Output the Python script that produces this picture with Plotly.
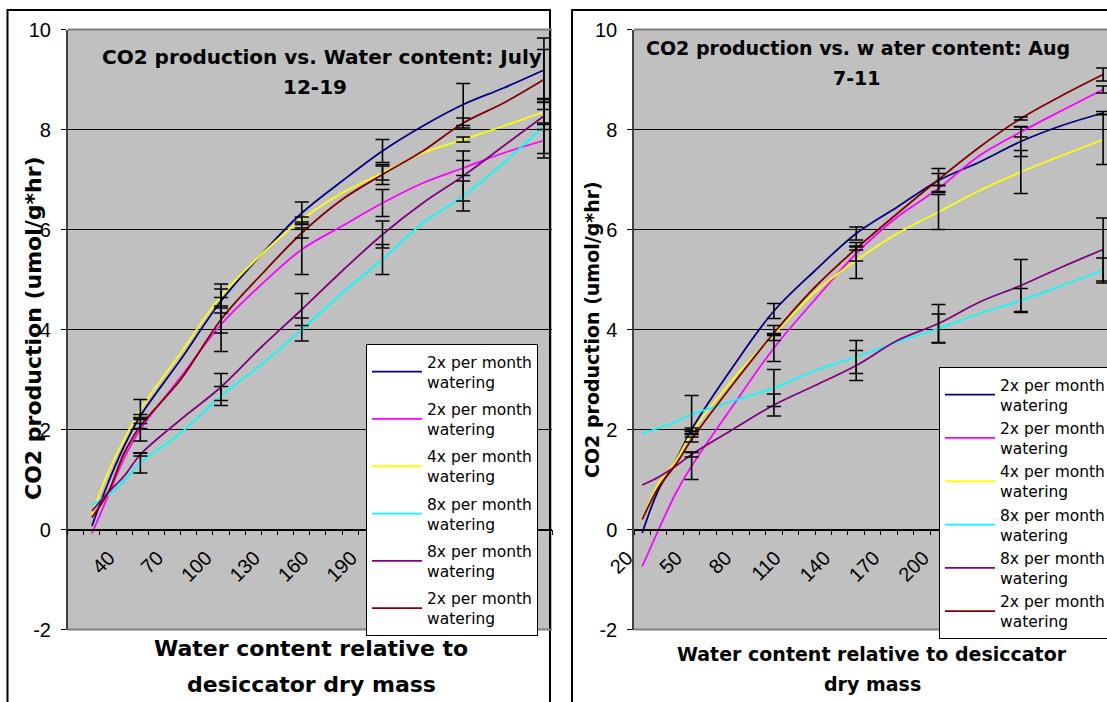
import plotly.graph_objects as go

W, H = 1107, 702

# ---------------- data ----------------
x_vals = [25, 35, 45, 55, 80, 105, 130, 155, 180, 205, 230, 255, 280, 305]
err_x = [55, 105, 155, 205, 255, 305]

series_names = ["2x per month<br>watering", "2x per month<br>watering", "4x per month<br>watering",
                "8x per month<br>watering", "8x per month<br>watering", "2x per month<br>watering"]
series_colors = ["#000080", "#FF00FF", "#FFFF00", "#00FFFF", "#800080", "#800000"]

# July 12-19
july_navy    = [0.07, 0.93, 1.67, 2.27, 3.40, 4.57, 5.50, 6.33, 6.97, 7.57, 8.07, 8.50, 8.83, 9.19]
july_magenta = [-0.08, 0.67, 1.43, 2.00, 3.05, 4.10, 4.90, 5.60, 6.07, 6.53, 6.93, 7.23, 7.53, 7.78]
july_yellow  = [0.30, 1.14, 1.80, 2.40, 3.53, 4.67, 5.50, 6.20, 6.73, 7.13, 7.53, 7.80, 8.07, 8.35]
july_cyan    = [0.49, 0.69, 0.97, 1.33, 1.93, 2.67, 3.30, 4.00, 4.73, 5.40, 6.13, 6.67, 7.33, 8.07]
july_purple  = [0.37, 0.74, 1.07, 1.50, 2.20, 2.85, 3.65, 4.40, 5.17, 5.90, 6.53, 7.07, 7.67, 8.27]
july_darkred = [0.24, 0.74, 1.53, 2.07, 3.00, 4.20, 5.10, 5.93, 6.60, 7.10, 7.57, 8.13, 8.53, 9.00]

july_err_navy    = [0.03, 0.24, 0.22, 0.23, 0.42, 0.64]
july_err_magenta = [0.23, 0.54, 0.50, 0.27, 0.15, 0.35]
july_err_yellow  = [0.20, 0.24, 0.05, 0.14, 0.05, 0.25]
july_err_cyan    = [0.20, 0.19, 0.23, 0.30, 0.30, 0.55]
july_err_purple  = [0.03, 0.27, 0.32, 0.27, 0.50, 0.27]
july_err_darkred = [0.05, 0.27, 0.10, 0.20, 0.10, 0.60]

# Aug 7-11
aug_navy    = [-0.07, 0.80, 1.35, 2.00, 3.25, 4.37, 5.18, 5.92, 6.45, 6.98, 7.35, 7.76, 8.08, 8.33]
aug_magenta = [-0.74, 0.00, 0.70, 1.27, 2.47, 3.63, 4.60, 5.52, 6.25, 6.82, 7.48, 7.95, 8.38, 8.80]
aug_yellow  = [0.20, 0.92, 1.35, 1.93, 3.00, 3.90, 4.75, 5.38, 5.92, 6.35, 6.78, 7.15, 7.48, 7.80]
aug_cyan    = [1.92, 2.03, 2.15, 2.30, 2.57, 2.83, 3.18, 3.45, 3.75, 4.02, 4.32, 4.58, 4.88, 5.18]
aug_purple  = [0.89, 1.05, 1.26, 1.50, 2.00, 2.49, 2.88, 3.28, 3.78, 4.12, 4.55, 4.88, 5.25, 5.60]
aug_darkred = [0.20, 0.85, 1.28, 1.80, 2.90, 3.93, 4.85, 5.62, 6.32, 7.00, 7.65, 8.22, 8.68, 9.10]

aug_err_navy    = [0.03, 0.15, 0.13, 0.24, 0.30, 0.03]
aug_err_magenta = [0.27, 0.27, 0.15, 0.06, 0.10, 0.07]
aug_err_yellow  = [0.03, 0.02, 0.36, 0.35, 0.43, 0.50]
aug_err_cyan    = [0.38, 0.37, 0.33, 0.29, 0.24, 0.25]
aug_err_purple  = [0.05, 0.22, 0.30, 0.38, 0.52, 0.63]
aug_err_darkred = [0.05, 0.15, 0.03, 0.12, 0.03, 0.13]

july_tick_vals = [40, 70, 100, 130, 160, 190, 220, 250, 280]
aug_tick_vals = [20, 50, 80, 110, 140, 170, 200, 230, 260, 290]
y_tick_vals = [-2, 0, 2, 4, 6, 8, 10]

july_series = [july_navy, july_magenta, july_yellow, july_cyan, july_purple, july_darkred]
july_errs = [july_err_navy, july_err_magenta, july_err_yellow, july_err_cyan, july_err_purple, july_err_darkred]
aug_series = [aug_navy, aug_magenta, aug_yellow, aug_cyan, aug_purple, aug_darkred]
aug_errs = [aug_err_navy, aug_err_magenta, aug_err_yellow, aug_err_cyan, aug_err_purple, aug_err_darkred]

# ---------------- layout helpers ----------------
def px(v):
    return v / W

def py(v):
    return 1 - v / H

TICKF = "Liberation Sans, Arial, sans-serif"
TEXTF = "DejaVu Sans, sans-serif"

fig = go.Figure()

def add_chart(series, errs, xa, ya, legend):
    for i, (ys, name, col) in enumerate(zip(series, series_names, series_colors)):
        fig.add_trace(go.Scatter(
            x=x_vals, y=ys, mode="lines", name=name, xaxis=xa, yaxis=ya,
            line=dict(color=col, width=1.8, shape="spline"),
            legend=legend, legendgroup=f"{legend}{i}", hoverinfo="skip"))
    for ys, e in zip(series, errs):
        ey = [ys[x_vals.index(xx)] for xx in err_x]
        fig.add_trace(go.Scatter(
            x=err_x, y=ey, mode="markers", xaxis=xa, yaxis=ya, showlegend=False,
            marker=dict(size=1, color="rgba(0,0,0,0)"),
            error_y=dict(type="data", array=e, visible=True, color="black",
                         thickness=1.6, width=7), hoverinfo="skip"))

add_chart(july_series, july_errs, "x", "y", "legend")
add_chart(aug_series, aug_errs, "x2", "y2", "legend2")

y_dom = [py(629.5), py(29.5)]
x_pos = y_dom[0] + (y_dom[1] - y_dom[0]) * 2 / 12

def xaxis_cfg(domain, rng, tickvals, tick0):
    return dict(domain=domain, range=rng, anchor="free", position=x_pos,
                showline=True, linecolor="black", linewidth=1.5,
                ticks="outside", ticklen=5, tickcolor="black", tickwidth=1,
                tickmode="array", tickvals=tickvals, ticktext=[str(v) for v in tickvals],
                tickangle=-45, ticklabelstandoff=3, ticklabelshift=-7, automargin=False,
                tickfont=dict(family=TICKF, size=20, color="black"),
                minor=dict(tickmode="linear", tick0=tick0, dtick=10, ticks="outside",
                           ticklen=5, tickcolor="black", showgrid=False),
                showgrid=False, zeroline=False, fixedrange=True)

def yaxis_cfg(anchor):
    return dict(domain=y_dom, range=[-2, 10], anchor=anchor, automargin=False,
                tickmode="array", tickvals=y_tick_vals, ticktext=[str(v) for v in y_tick_vals],
                showgrid=True, gridcolor="black", gridwidth=1, zeroline=False,
                showline=True, linecolor="#404040", linewidth=1.5,
                ticks="outside", ticklen=5, tickcolor="black", ticklabelstandoff=6,
                tickfont=dict(family=TICKF, size=20, color="black"), fixedrange=True)

legend_common = dict(bgcolor="white", bordercolor="black", borderwidth=1,
                     font=dict(family=TEXTF, size=15.5, color="black"),
                     xanchor="left", yanchor="top", itemwidth=50,
                     traceorder="grouped")

annots = []
def txt(text, x, y, size, angle=0):
    annots.append(dict(text=f"<b>{text}</b>", x=px(x), y=py(y), xref="paper", yref="paper",
                       xanchor="center", yanchor="middle", showarrow=False, textangle=angle,
                       font=dict(family=TEXTF, size=size, color="black")))

txt("CO2 production vs. Water content: July", 322, 57, 20)
txt("12-19", 315, 87, 20)
txt("CO2 production vs. w ater content: Aug", 858, 48, 19)
txt("7-11", 857, 78, 19)
txt("Water content relative to", 311, 648, 22)
txt("desiccator dry mass", 311, 684, 22)
txt("Water content relative to desiccator", 872, 654, 19)
txt("dry mass", 872, 684, 19)
txt("CO2 production (umol/g*hr)", 33, 328, 22, -90)
txt("CO2 production (umol/g*hr)", 592, 330, 19, -90)

shapes = [
    # outer chart borders
    dict(type="rect", xref="paper", yref="paper", x0=px(7.5), x1=px(550), y0=py(712), y1=py(10),
         line=dict(color="black", width=2), layer="above"),
    dict(type="rect", xref="paper", yref="paper", x0=px(572), x1=px(1120), y0=py(712), y1=py(10),
         line=dict(color="black", width=2), layer="above"),
    # plot area edges
    dict(type="line", xref="paper", yref="paper", x0=px(67.7), x1=px(552), y0=py(29.5), y1=py(29.5),
         line=dict(color="#808080", width=2), layer="above"),
    dict(type="line", xref="paper", yref="paper", x0=px(67.7), x1=px(552), y0=py(629.5), y1=py(629.5),
         line=dict(color="#808080", width=2), layer="above"),
    dict(type="line", xref="paper", yref="paper", x0=px(634), x1=px(1107), y0=py(29.5), y1=py(29.5),
         line=dict(color="#808080", width=2), layer="above"),
    dict(type="line", xref="paper", yref="paper", x0=px(634), x1=px(1107), y0=py(629.5), y1=py(629.5),
         line=dict(color="#808080", width=2), layer="above"),
]

fig.update_layout(
    width=W, height=H, margin=dict(l=0, r=0, t=0, b=0, autoexpand=False),
    paper_bgcolor="white", plot_bgcolor="#C0C0C0",
    xaxis=xaxis_cfg([px(67.7), px(552)], [10, 310], july_tick_vals, 10),
    yaxis=yaxis_cfg("x"),
    xaxis2=xaxis_cfg([px(634), 1.0], [20, 20 + (1107 - 634) / 1.646], aug_tick_vals, 20),
    yaxis2=yaxis_cfg("x2"),
    legend=dict(x=px(366), y=py(344), tracegroupgap=4, **legend_common),
    legend2=dict(x=px(939), y=py(367), tracegroupgap=0, **legend_common),
    annotations=annots, shapes=shapes, showlegend=True,
)

fig.write_html("out.html")
